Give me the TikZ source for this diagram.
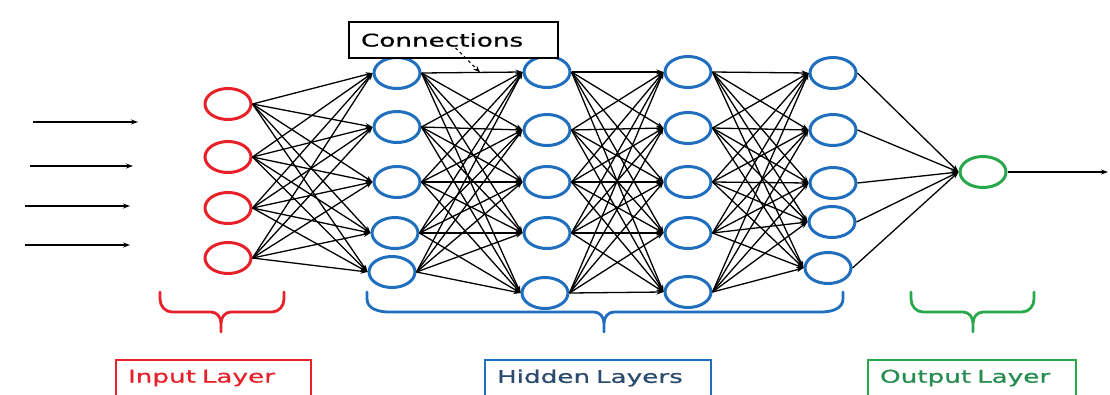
\documentclass[tikz,border=0pt]{standalone}
\usepackage{fontspec}
\newfontfamily\labelfont[FakeStretch=1.5,FakeBold=0.8]{DejaVu Sans}
\usetikzlibrary{shapes.geometric,arrows.meta,calc}

\definecolor{netred}{RGB}{232,32,42}
\definecolor{netblue}{RGB}{31,111,190}
\definecolor{netgreen}{RGB}{40,168,74}
\definecolor{hiddentext}{RGB}{44,75,110}
\definecolor{outtext}{RGB}{38,140,80}

\begin{document}
\begin{tikzpicture}[x=1pt, y=-1pt, >={Stealth[length=7pt,width=5pt]},
		neuron/.style={ellipse, draw, line width=3pt, minimum width=46pt, minimum height=31pt, inner sep=0pt},
		link/.style={->, line width=1.3pt},
		layerbox/.style={draw, fill=white, line width=1.8pt, minimum height=36pt, inner xsep=12pt, align=left, font=\labelfont\fontsize{17.5}{20}\selectfont},
		curly/.style={line width=2.8pt, line cap=round}]
		\useasboundingbox (0,0) rectangle (1110,394);

		% neurons
		\foreach \y [count=\i] in {104,157,208,258}
			\node[neuron, draw=netred] (in\i) at (228,\y) {};
		\foreach \x/\y [count=\i] in {397/73,397/127,397/182,395/233,392/272}
			\node[neuron, draw=netblue] (h1-\i) at (\x,\y) {};
		\foreach \x/\y [count=\i] in {547/72,547/130,547/182,547/233,545/293}
			\node[neuron, draw=netblue] (h2-\i) at (\x,\y) {};
		\foreach \x/\y [count=\i] in {688/72,688/128,688/182,688/233,688/292}
			\node[neuron, draw=netblue] (h3-\i) at (\x,\y) {};
		\foreach \x/\y [count=\i] in {833/73,833/130,833/183,832/222,828/268}
			\node[neuron, draw=netblue] (h4-\i) at (\x,\y) {};
		\node[neuron, draw=netgreen] (out) at (983,172) {};

		% inputs coming in
		\foreach \y/\a/\b [count=\i] in {122/33/138,166/30/133,206/25/130,245/25/130} {
			\coordinate (x\i) at (\a,\y);
			\coordinate (xe\i) at (\b,\y);
			\draw[link] (x\i) -- (xe\i);
		}

		% weights between layers
		\foreach \i in {1,...,4}
			\foreach \j in {1,...,5}
				\draw[link] (in\i.east) -- (h1-\j.west);
		\foreach \a/\b in {1/2,2/3,3/4}
			\foreach \i in {1,...,5}
				\foreach \j in {1,...,5}
					\draw[link] (h\a-\i.east) -- (h\b-\j.west);
		\foreach \i in {1,...,5}
			\draw[link] (h4-\i.east) -- (out.west);
		\coordinate (outend) at (1108,172);
		\draw[link] (out.east) -- (outend);

		% callout
		\node[layerbox, text width=185pt] (conn) at (453.5,40) {Connections};
		\path (h1-1.east) -- (h2-1.west) coordinate[pos=0.58] (conntip);
		\draw[->, dashed, line width=1pt] ($(conn.south)+(2,-11)$) -- (conntip);

		% braces
		\foreach \xa/\xm/\xb/\r/\col in {160/221/284/12/netred, 367/604/843/22/netblue, 911/973/1034/12/netgreen} {
			\draw[curly, \col] (\xa,292) -- (\xa,299) to[out=-90,in=180] (\xa+\r,312) -- (\xm-10,312) to[out=0,in=90] (\xm,323) -- (\xm,332);
			\draw[curly, \col] (\xb,292) -- (\xb,299) to[out=-90,in=0] (\xb-\r,312) -- (\xm+10,312) to[out=180,in=90] (\xm,323);
		}

		% layer names
		\node[layerbox, draw=netred, text=netred, text width=171pt] (inname) at (213.5,378) {Input Layer};
		\node[layerbox, draw=netblue, text=hiddentext, text width=202pt] (hidname) at (598,378) {Hidden Layers};
		\node[layerbox, draw=netgreen, text=outtext, text width=184pt] (outname) at (972,378) {Output Layer};
	\end{tikzpicture}
\end{document}
